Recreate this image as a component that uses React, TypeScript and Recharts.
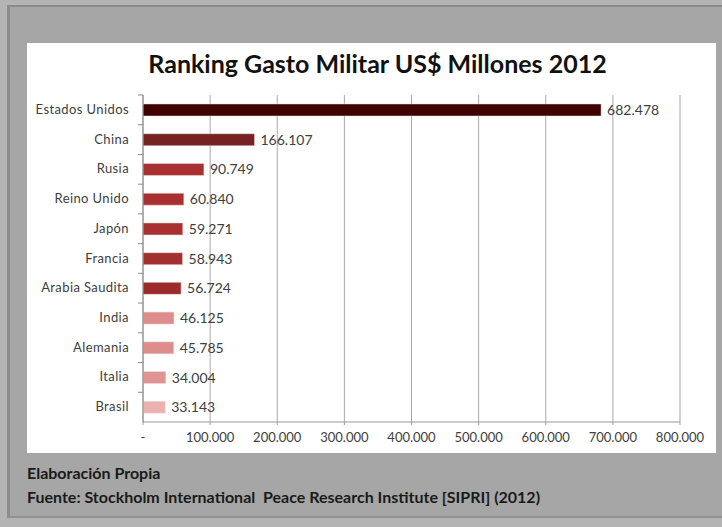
import React from 'react';
import {
  BarChart,
  Bar,
  Cell,
  XAxis,
  YAxis,
  CartesianGrid,
  LabelList,
} from 'recharts';

const countries = [
  'Estados Unidos',
  'China',
  'Rusia',
  'Reino Unido',
  'Japón',
  'Francia',
  'Arabia Saudita',
  'India',
  'Alemania',
  'Italia',
  'Brasil',
];

const spending = [682478, 166107, 90749, 60840, 59271, 58943, 56724, 46125, 45785, 34004, 33143];

const xTicks = [0, 100000, 200000, 300000, 400000, 500000, 600000, 700000, 800000];

const BAR_COLORS = [
  '#3f0000',
  '#772222',
  '#a83030',
  '#a83030',
  '#a83030',
  '#a32f2f',
  '#9c2a2a',
  '#df8c8c',
  '#df8c8c',
  '#e09494',
  '#ebb1b1',
];

const data = countries.map((name, i) => ({ name, value: spending[i] }));

const FONT = 'Lato, "Open Sans", sans-serif';

// 682478 -> "682.478", 0 -> "-"
const fmt = (v: number) =>
  v === 0 ? '-' : String(v).replace(/\B(?=(\d{3})+(?!\d))/g, '.');

const PLOT_HEIGHT = 327;

// category label plus the small tick mark Excel puts between categories
function CategoryTick(props: any) {
  const { x, y, payload } = props;
  const half = PLOT_HEIGHT / countries.length / 2;
  return (
    <g>
      <line x1={x + 9} x2={x + 14} y1={y - half} y2={y - half} stroke="#8a8a8a" />
      <text
        x={x}
        y={y}
        dy={4}
        textAnchor="end"
        fontSize={13}
        fill="#404040"
        fontFamily={FONT}
        letterSpacing={0.4}
      >
        {payload.value}
      </text>
    </g>
  );
}

export default function App() {
  return (
    <div
      style={{
        position: 'absolute',
        left: 0,
        top: 0,
        width: 722,
        height: 527,
        background: '#b4b4b4',
        overflow: 'hidden',
        fontFamily: FONT,
      }}
    >
      <div
        style={{
          position: 'absolute',
          left: 7,
          top: 5,
          width: 715,
          height: 513,
          background: '#a6a6a6',
          borderLeft: '3px solid #8c8c8c',
          borderTop: '2px solid #8c8c8c',
          borderBottom: '2px solid #929292',
          boxSizing: 'border-box',
        }}
      />
      <div
        style={{
          position: 'absolute',
          left: 27,
          top: 43,
          width: 689,
          height: 410,
          background: '#ffffff',
        }}
      >
        <div
          style={{
            position: 'absolute',
            left: 6,
            top: 5,
            width: '100%',
            textAlign: 'center',
            fontWeight: 700,
            fontSize: 25,
            color: '#111111',
          }}
        >
          Ranking Gasto Militar US$ Millones 2012
        </div>
        <div style={{ position: 'absolute', left: 0, top: 0 }}>
          <BarChart
            width={689}
            height={410}
            data={data}
            layout="vertical"
            margin={{ top: 52, right: 36, bottom: 4, left: 0 }}
          >
            <CartesianGrid horizontal={false} stroke="#a8a8a8" />
            <XAxis
              type="number"
              domain={[0, 800000]}
              ticks={xTicks}
              tickFormatter={fmt}
              interval={0}
              stroke="#9a9a9a"
              tickSize={3}
              tickMargin={8}
              height={27}
              tick={{ fontSize: 13, fill: '#404040', fontFamily: FONT }}
            />
            <YAxis
              type="category"
              dataKey="name"
              width={116}
              stroke="#8a8a8a"
              tickLine={false}
              tickSize={0}
              tickMargin={14}
              interval={0}
              tick={<CategoryTick />}
            />
            <Bar dataKey="value" barSize={12} isAnimationActive={false}>
              {data.map((d, i) => (
                <Cell key={d.name} fill={BAR_COLORS[i]} stroke="#f2dede" strokeWidth={0.5} />
              ))}
              <LabelList
                dataKey="value"
                position="right"
                offset={6}
                formatter={(v: number) => fmt(v)}
                style={{ fontSize: 14, fill: '#404040', fontFamily: FONT }}
              />
            </Bar>
          </BarChart>
        </div>
      </div>
      <div
        style={{
          position: 'absolute',
          left: 27,
          top: 461,
          fontWeight: 700,
          fontSize: 16,
          color: '#1a1a1a',
          lineHeight: '24px',
        }}
      >
        <div>Elaboración Propia</div>
        <div>Fuente: Stockholm International&nbsp; Peace Research Institute [SIPRI] (2012)</div>
      </div>
    </div>
  );
}
